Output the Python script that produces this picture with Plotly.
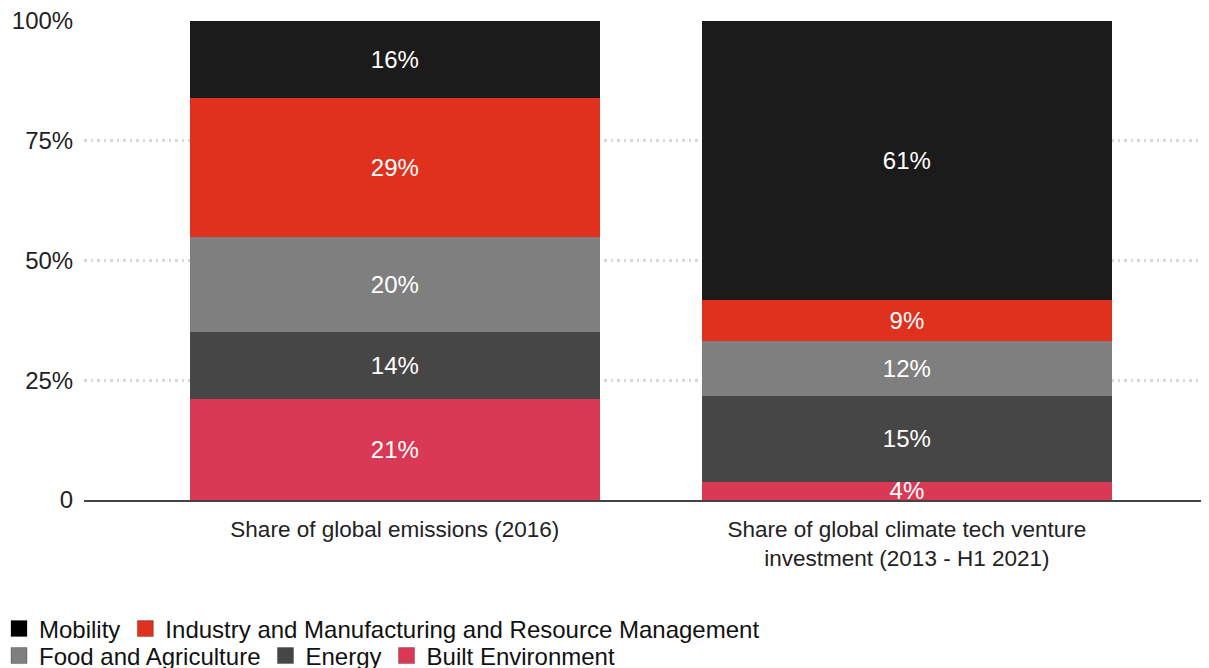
import plotly.graph_objects as go

categories = ["Share of global emissions (2016)",
              "Share of global climate tech venture<br>investment (2013 - H1 2021)"]
series_names = ["Built Environment", "Energy", "Food and Agriculture",
                "Industry and Manufacturing and Resource Management", "Mobility"]
# segment heights (percent of bar)
emissions = [21, 14, 20, 29, 16]
investment = [3.8, 18.0, 11.4, 8.6, 58.2]
# printed labels
emissions_labels = ["21%", "14%", "20%", "29%", "16%"]
investment_labels = ["4%", "15%", "12%", "9%", "61%"]
colors = ["#d93954", "#464646", "#7f7f7f", "#e0301e", "#1b1b1b"]
legend_colors = ["#d93954", "#464646", "#7f7f7f", "#e0301e", "#000000"]
legend_rank = [5, 4, 3, 2, 1]
legend_group = ["legend2", "legend2", "legend2", "legend", "legend"]

y_tickvals = [0, 25, 50, 75, 100]
y_ticktext = ["0", "25%", "50%", "75%", "100%"]

FONT = "Liberation Sans, Arial, Helvetica, sans-serif"
# the page body adds an 8px offset; the figure is sized to end at the window edge
OFF = 8
W, H = 1209 - OFF, 668 - OFF
ML = 84 - OFF
MT = 21 - OFF
MB = 168
PW = W - ML
PH = H - MT - MB


def paper_y(page_y):
    fig_y = page_y - OFF
    return (H - MB - fig_y) / PH


fig = go.Figure()
for i, name in enumerate(series_names):
    fig.add_trace(go.Bar(
        name=name,
        x=categories,
        y=[emissions[i], investment[i]],
        text=[emissions_labels[i], investment_labels[i]],
        textposition="inside",
        insidetextanchor="middle",
        textangle=0,
        textfont=dict(color="white", size=24, family=FONT),
        marker=dict(color=colors[i], line=dict(width=0)),
        width=0.8,
        showlegend=False,
        hoverinfo="skip",
    ))
# legend entries with larger square swatches
for i, name in enumerate(series_names):
    fig.add_trace(go.Scatter(
        name=name,
        x=[None], y=[None],
        mode="markers",
        marker=dict(symbol="square", size=18, color=legend_colors[i],
                    line=dict(width=1, color="rgba(0,0,0,0.25)")),
        legendrank=legend_rank[i],
        legend=legend_group[i],
        showlegend=True,
        hoverinfo="skip",
    ))

leg_common = dict(orientation="h", x=(-9 - ML) / PW, xanchor="left", xref="paper",
                  yref="paper", yanchor="middle",
                  font=dict(size=24, family=FONT, color="#111111"),
                  traceorder="normal", itemwidth=30, tracegroupgap=0,
                  itemsizing="trace",
                  bgcolor="rgba(0,0,0,0)")

fig.update_layout(
    barmode="stack",
    width=W, height=H,
    margin=dict(l=ML, r=0, t=MT, b=MB, autoexpand=False),
    paper_bgcolor="white", plot_bgcolor="white",
    font=dict(family=FONT, size=22, color="#222222"),
    uniformtext=dict(minsize=24, mode="show"),
    showlegend=True,
    legend=dict(leg_common, y=paper_y(629)),
    legend2=dict(leg_common, y=paper_y(656)),
    xaxis=dict(range=[-0.607, 1.59], showgrid=False, showline=True,
               linecolor="#444444", linewidth=1.5, ticks="", zeroline=False,
               tickfont=dict(size=22.5, family=FONT, color="#222222"),
               ticklabelstandoff=8, ticklabeloverflow="allow",
               automargin=False, fixedrange=True),
    yaxis=dict(range=[0, 100], tickvals=y_tickvals, ticktext=y_ticktext,
               showgrid=True, gridcolor="#d9d9d9", gridwidth=2.5,
               griddash="2.5px,4px",
               zeroline=False, showline=False, ticks="outside", ticklen=5,
               tickcolor="rgba(0,0,0,0)", ticklabeloverflow="allow",
               tickfont=dict(size=24, family=FONT, color="#222222"),
               automargin=False, fixedrange=True),
)

fig.write_html("out.html")
